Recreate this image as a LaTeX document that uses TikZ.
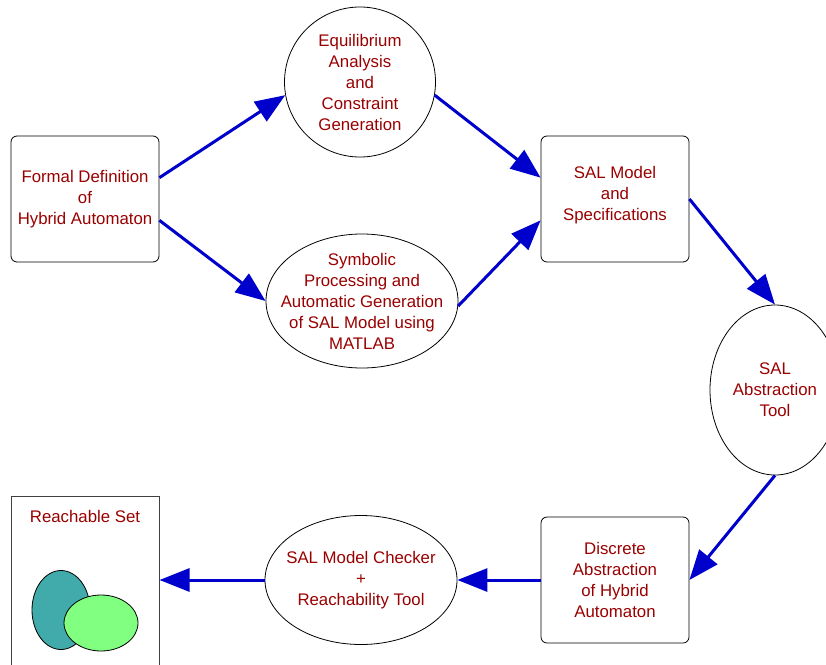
\documentclass[tikz,border=0pt]{standalone}
\usepackage{fontspec}
\setmainfont{Liberation Sans}
\usetikzlibrary{shapes,arrows.meta,positioning}
\definecolor{textcolor}{RGB}{153,0,0}
\definecolor{flowcolor}{RGB}{0,0,204}
\definecolor{setacolor}{RGB}{64,171,170}
\definecolor{setbcolor}{RGB}{128,255,128}

\begin{document}
\begin{tikzpicture}[
        x=1pt, y=-1pt,
        every node/.style={font=\fontsize{16.8}{21}\selectfont, text=textcolor, align=center},
        box/.style={rectangle, draw, rounded corners=6pt, minimum width=148pt, minimum height=126pt, inner sep=0pt, line width=0.8pt},
        oval/.style={ellipse, draw, inner sep=-30pt, line width=0.8pt},
        setshape/.style={ellipse, draw, inner sep=0pt, line width=0.8pt},
        arrow/.style={-{Triangle[length=30pt,width=23pt]}, line width=3pt, draw=flowcolor}
    ]
        \useasboundingbox (0,0) rectangle (826,664);

        % Input
        \node[box] (formal) at (85,199) {Formal Definition\\of\\Hybrid Automaton};

        % Preprocessing
        \node[oval, minimum width=151pt, minimum height=150pt] (equil) at (360,82)
            {Equilibrium\\Analysis\\and\\Constraint\\Generation};
        \node[oval, minimum width=192pt, minimum height=134pt] (symb) at (362,301)
            {Symbolic\\Processing and\\Automatic Generation\\of SAL Model using\\MATLAB};

        % SAL side
        \node[box] (salmodel) at (615,199) {SAL Model\\and\\Specifications\\[-10pt]\mbox{}};
        \node[oval, minimum width=130pt, minimum height=170pt] (abstr) at (775,390)
            {SAL\\Abstraction\\Tool};
        \node[box] (discrete) at (615,580) {Discrete\\Abstraction\\of Hybrid\\Automaton};
        \node[oval, minimum width=192pt, minimum height=129pt] (checker) at (361,580)
            {SAL Model Checker\\+\\Reachability Tool};

        % Output
        \node[rectangle, draw=black!75, line width=1pt, minimum width=148pt, minimum height=206pt, inner sep=0pt] (reach) at (85,599) {};
        \node (reachtitle) at (85,516) {Reachable Set};
        \node[setshape, fill=setacolor, minimum width=58pt, minimum height=79pt] (seta) at (61,610) {};
        \node[setshape, fill=setbcolor, minimum width=74pt, minimum height=56pt] (setb) at (101,623) {};

        % Flow
        \draw[arrow] (formal.16) -- (equil.190);
        \draw[arrow] (formal.-16) -- (symb.west);
        \draw[arrow] (equil.-10) -- (salmodel.164);
        \draw[arrow] (symb.-3) -- (salmodel.196);
        \draw[arrow] (salmodel.east) -- (abstr.north);
        \draw[arrow] (abstr.south) -- (discrete.east);
        \draw[arrow] (discrete.west) -- (checker.east);
        \draw[arrow] (checker.west) -- (reach.east |- checker.west);

    \end{tikzpicture}
\end{document}
